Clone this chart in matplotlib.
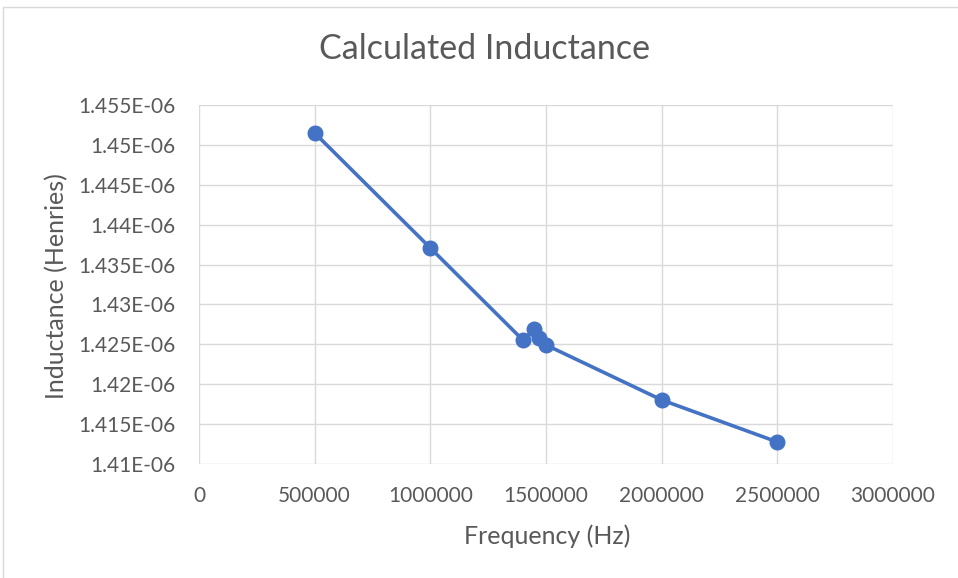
import matplotlib
matplotlib.use("Agg")
import matplotlib.pyplot as plt
from matplotlib.patches import Rectangle
from matplotlib.ticker import MultipleLocator, FuncFormatter

frequency_hz = [500000, 1000000, 1400000, 1450000, 1470000, 1500000, 2000000, 2500000]
inductance_h = [1.45149e-06, 1.43708e-06, 1.42554e-06, 1.42688e-06, 1.42580e-06,
                1.42492e-06, 1.41803e-06, 1.41276e-06]

x_ticks = [0, 500000, 1000000, 1500000, 2000000, 2500000, 3000000]
y_min, y_max, y_step = 1.41e-06, 1.455e-06, 0.005e-06

TEXT = "#595959"
GRID = "#d9d9d9"
LINE = "#4472C4"
FONT = ["Lato", "DejaVu Sans"]

W, H = 958, 578
fig = plt.figure(figsize=(W / 100, H / 100), dpi=100)
fig.patch.set_facecolor("white")

# chart border
fig.patches.append(Rectangle((3 / W, -0.05), 1.2, 1 - 7 / H + 0.05, transform=fig.transFigure,
                             fill=False, edgecolor=GRID, linewidth=1.0))

left, right, top, bottom = 199, 893, 105, 464
ax = fig.add_axes([left / W, 1 - bottom / H, (right - left) / W, (bottom - top) / H])

ax.plot(frequency_hz, inductance_h, color=LINE, linewidth=2.6, marker="o",
        markersize=10.5, markerfacecolor=LINE, markeredgecolor=LINE, zorder=3)

ax.set_xlim(0, 3000000)
ax.set_ylim(y_min, y_max)
ax.set_xticks(x_ticks)
ax.xaxis.set_major_formatter(FuncFormatter(lambda v, p: f"{int(round(v))}"))
ax.yaxis.set_major_locator(MultipleLocator(y_step))


def sci_label(v, p):
    s = f"{v:.3E}"
    mant, exp = s.split("E")
    mant = mant.rstrip("0").rstrip(".")
    sign = "-" if exp.startswith("-") else "+"
    return f"{mant}E{sign}{abs(int(exp)):02d}"


ax.yaxis.set_major_formatter(FuncFormatter(sci_label))

ax.grid(True, color=GRID, linewidth=1.0)
ax.set_axisbelow(True)
for s in ax.spines.values():
    s.set_visible(False)
ax.tick_params(length=0, labelsize=15, colors=TEXT)
ax.tick_params(axis="x", pad=16)
ax.tick_params(axis="y", pad=17)
for lbl in ax.get_xticklabels() + ax.get_yticklabels():
    lbl.set_family(FONT)

fig.text(485 / W, 1 - 49 / H, "Calculated Inductance", ha="center", va="center",
         fontsize=24.5, color=TEXT, family=FONT)
fig.text(547 / W, 1 - 536 / H, "Frequency (Hz)", ha="center", va="center",
         fontsize=18, color=TEXT, family=FONT)
fig.text(57 / W, 1 - 286 / H, "Inductance (Henries)", ha="center", va="center",
         rotation=90, fontsize=18, color=TEXT, family=FONT)

fig.savefig("out.png", dpi=100)
